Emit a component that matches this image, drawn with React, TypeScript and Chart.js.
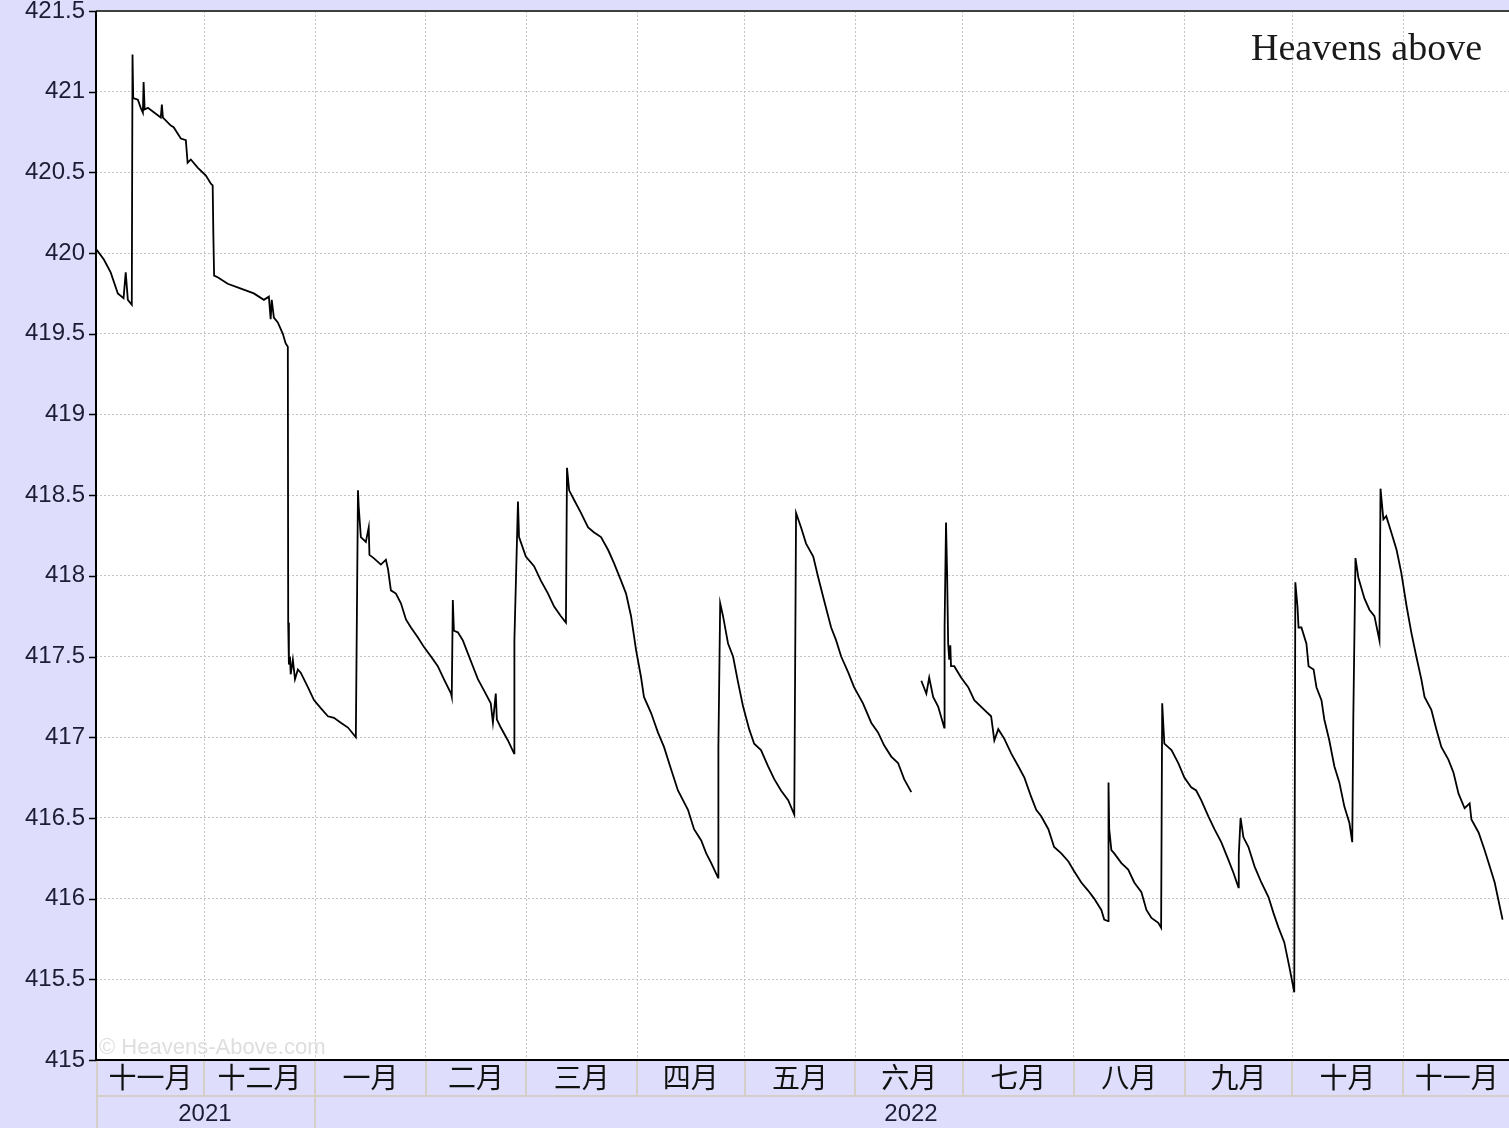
import React, { useEffect, useRef } from 'react';
import { Chart, registerables } from 'chart.js';

Chart.register(...registerables);

const W = 1509;
const H = 1128;

// Day offsets since 2021-11-01 of each month start (last entry = 2022-12-01)
const monthStarts = [0, 30, 61, 92, 120, 151, 181, 212, 242, 273, 304, 334, 365, 395];
const monthLabels = ['十一月', '十二月', '一月', '二月', '三月', '四月', '五月', '六月', '七月', '八月', '九月', '十月', '十一月'];
const yearLabels = ['2021', '2022'];
const yearSpans: [number, number][] = [[0, 61], [61, 395]];

const yTicks = [415, 415.5, 416, 416.5, 417, 417.5, 418, 418.5, 419, 419.5, 420, 420.5, 421, 421.5];
const yTickLabels = ['415', '415.5', '416', '416.5', '417', '417.5', '418', '418.5', '419', '419.5', '420', '420.5', '421', '421.5'];

// [day since 2021-11-01, altitude km]; null = data gap
const altitudeSamples: [number, number | null][] = [
  [0, 420.02], [2.0, 419.96], [3.9, 419.88], [5.9, 419.75], [7.5, 419.72], [8.1, 419.88], [8.7, 419.71], [9.8, 419.68],
  [10.0, 421.23], [10.2, 420.96], [11.5, 420.95], [12.3, 420.90], [12.9, 420.87], [13.1, 421.06], [13.4, 420.89], [14.3, 420.90],
  [17.9, 420.84], [18.2, 420.92], [18.5, 420.84], [20.7, 420.79], [21.5, 420.78], [23.5, 420.71], [24.9, 420.70], [25.4, 420.56],
  [26.3, 420.58], [28.2, 420.53], [30.5, 420.48], [31.9, 420.43], [32.4, 420.42],
  [32.6, 420.10], [32.8, 419.86], [33.8, 419.85], [36.6, 419.81], [40.3, 419.78], [43.9, 419.75], [46.7, 419.71], [48.1, 419.73],
  [48.6, 419.59], [48.9, 419.71], [49.5, 419.60], [50.6, 419.57], [52.0, 419.50], [52.8, 419.44], [53.4, 419.42],
  [53.5, 417.71], [53.7, 417.45], [54.0, 417.50], [54.2, 417.39], [54.8, 417.48], [55.4, 417.36], [56.2, 417.42], [57.0, 417.40],
  [59.0, 417.31], [60.7, 417.23], [62.6, 417.18], [64.6, 417.13], [66.3, 417.12], [68.2, 417.09], [70.2, 417.06], [72.4, 417.00],
  [72.7, 417.77], [73.0, 418.53], [73.2, 418.43], [73.8, 418.24], [75.2, 418.21], [76.0, 418.30], [76.2, 418.13], [77.4, 418.11],
  [79.4, 418.07], [80.8, 418.10], [81.4, 418.04], [82.2, 417.91], [83.6, 417.89], [85.0, 417.83], [86.4, 417.73], [87.8, 417.68],
  [89.7, 417.62], [91.4, 417.56], [93.4, 417.50], [95.3, 417.44], [97.0, 417.36], [99.0, 417.27], [99.2, 417.25],
  [99.5, 417.85], [99.8, 417.66], [100.9, 417.65], [102.3, 417.60], [103.7, 417.52], [105.1, 417.44], [106.5, 417.36], [108.2, 417.29],
  [110.1, 417.21], [110.7, 417.09], [111.5, 417.27], [111.8, 417.11], [112.9, 417.06], [114.9, 416.98], [116.6, 416.90],
  [116.7, 417.60], [117.7, 418.46], [118.0, 418.24], [119.9, 418.12], [122.2, 418.06], [124.1, 417.97], [126.1, 417.89], [127.8, 417.81],
  [129.7, 417.75], [131.1, 417.71],
  [131.4, 418.67], [132.0, 418.53], [133.4, 418.47], [135.3, 418.39], [137.3, 418.30], [138.9, 418.27], [140.9, 418.24], [142.9, 418.16],
  [144.5, 418.08], [146.5, 417.97], [147.9, 417.89], [149.3, 417.75], [150.7, 417.54], [152.1, 417.37], [152.9, 417.25], [154.9, 417.15],
  [156.8, 417.03], [158.5, 416.94], [160.5, 416.80], [162.4, 416.67], [163.8, 416.61], [165.2, 416.55], [166.9, 416.43], [168.9, 416.36],
  [170.3, 416.28], [171.7, 416.22], [173.6, 416.13],
  [173.7, 416.94], [174.2, 417.83], [175.0, 417.75], [176.4, 417.58], [177.8, 417.50], [179.2, 417.34], [180.6, 417.19], [182.3, 417.05],
  [183.7, 416.96], [185.6, 416.92], [187.6, 416.82], [189.3, 416.74], [191.2, 416.67], [193.2, 416.61], [194.9, 416.52],
  [195.4, 418.39], [196.8, 418.30], [198.2, 418.20], [200.2, 418.12], [201.6, 417.99], [203.2, 417.85], [205.2, 417.68], [206.6, 417.60],
  [208.0, 417.50], [210.0, 417.40], [211.6, 417.31], [214.1, 417.21], [216.4, 417.09], [218.3, 417.03], [220.0, 416.95], [222.0, 416.88],
  [223.9, 416.84], [225.6, 416.74], [227.6, 416.66],
  [229.0, null],
  [230.4, 417.35], [231.8, 417.27], [232.6, 417.37], [233.7, 417.25], [235.1, 417.19], [236.8, 417.06], [236.9, 417.68], [237.3, 418.33],
  [237.6, 418.02], [237.9, 417.58], [238.2, 417.48], [238.5, 417.57], [238.7, 417.44], [239.6, 417.44], [241.5, 417.37], [243.5, 417.31],
  [245.2, 417.23], [248.0, 417.17], [249.9, 417.13], [250.8, 416.98], [251.9, 417.05], [253.6, 416.99], [255.5, 416.90], [257.5, 416.82],
  [259.2, 416.75], [261.1, 416.63], [262.5, 416.55], [263.9, 416.51], [265.9, 416.43], [267.5, 416.32], [269.5, 416.28], [271.5, 416.23],
  [273.1, 416.17], [275.1, 416.10], [277.0, 416.05], [278.7, 416.00], [280.7, 415.93], [281.5, 415.87], [282.6, 415.86],
  [282.7, 416.72], [282.9, 416.43], [283.5, 416.30], [284.3, 416.28], [286.3, 416.22], [288.2, 416.18], [289.9, 416.10], [291.9, 416.04],
  [293.3, 415.93], [294.7, 415.88], [296.6, 415.85], [297.4, 415.82],
  [297.7, 417.21], [298.3, 416.96], [300.3, 416.92], [302.2, 416.84], [303.9, 416.75], [305.8, 416.69], [307.2, 416.67], [308.6, 416.61],
  [310.6, 416.51], [312.3, 416.43], [314.2, 416.35], [316.2, 416.24], [317.6, 416.16], [319.0, 416.07],
  [319.1, 416.27], [319.6, 416.50], [320.4, 416.38], [321.8, 416.32], [323.5, 416.20], [325.4, 416.10], [327.4, 416.01], [328.8, 415.91],
  [330.2, 415.82], [331.8, 415.73], [333.2, 415.58], [334.6, 415.42],
  [334.9, 417.96], [335.5, 417.81], [335.8, 417.68], [336.6, 417.68], [338.0, 417.58], [338.6, 417.44], [340.0, 417.42], [340.8, 417.31],
  [342.2, 417.23], [343.0, 417.11], [344.4, 416.98], [345.8, 416.82], [347.2, 416.72], [348.6, 416.57], [350.0, 416.47], [350.8, 416.35],
  [351.1, 417.12], [351.7, 418.11], [352.5, 417.99], [354.2, 417.86], [355.6, 417.79], [357.0, 417.75], [358.4, 417.60],
  [358.7, 418.54], [359.5, 418.35], [360.3, 418.37], [361.7, 418.27], [363.2, 418.16], [364.5, 418.02], [366.0, 417.81], [367.3, 417.65],
  [368.7, 417.50], [370.1, 417.36], [371.0, 417.25], [372.9, 417.17], [374.3, 417.05], [375.7, 416.94], [377.7, 416.86], [379.1, 416.78],
  [380.5, 416.65], [382.2, 416.56], [383.6, 416.59], [384.1, 416.49], [386.1, 416.41], [387.8, 416.30], [389.2, 416.20], [390.6, 416.10],
  [392.8, 415.87],
];

const LAVENDER = '#dedefc';
const CELL_BORDER = '#d4d0c8';
const TEXT_DARK = '#1c1c34';

const framePlugin = {
  id: 'frame',
  beforeDraw(chart: any) {
    const { ctx, chartArea: a } = chart;
    ctx.save();
    ctx.fillStyle = LAVENDER;
    ctx.fillRect(0, 0, chart.width, chart.height);
    ctx.fillStyle = '#ffffff';
    ctx.fillRect(a.left, a.top, a.right - a.left, a.bottom - a.top);
    ctx.restore();
  },
  beforeDatasetsDraw(chart: any) {
    const { ctx, chartArea: a } = chart;
    ctx.save();
    ctx.font = '22px "Liberation Sans", Arial, sans-serif';
    ctx.fillStyle = '#dedede';
    ctx.textAlign = 'left';
    ctx.textBaseline = 'alphabetic';
    ctx.fillText('© Heavens-Above.com', a.left + 3, a.bottom - 6);
    ctx.restore();
  },
  afterDraw(chart: any) {
    const { ctx, chartArea: a } = chart;
    const xs = chart.scales.x;
    const ys = chart.scales.y;
    ctx.save();

    // bottom table rows
    const rowTop = a.bottom;
    const rowMid = a.bottom + 36;
    const rowBot = chart.height;
    ctx.strokeStyle = CELL_BORDER;
    ctx.lineWidth = 2;
    ctx.beginPath();
    ctx.moveTo(a.left, rowMid);
    ctx.lineTo(a.right, rowMid);
    monthStarts.forEach((m) => {
      const px = Math.round(xs.getPixelForValue(m));
      ctx.moveTo(px, rowTop);
      ctx.lineTo(px, rowMid);
    });
    yearSpans.forEach(([s]) => {
      const px = Math.round(xs.getPixelForValue(s));
      ctx.moveTo(px, rowMid);
      ctx.lineTo(px, rowBot);
    });
    ctx.stroke();

    ctx.fillStyle = '#111111';
    ctx.font = '28px "Noto Sans CJK SC", sans-serif';
    ctx.textAlign = 'center';
    ctx.textBaseline = 'middle';
    monthLabels.forEach((lbl, i) => {
      const cx = (xs.getPixelForValue(monthStarts[i]) + xs.getPixelForValue(monthStarts[i + 1])) / 2;
      ctx.fillText(lbl, cx, rowTop + 17);
    });

    ctx.fillStyle = TEXT_DARK;
    ctx.font = '24px "Liberation Sans", Arial, sans-serif';
    yearLabels.forEach((lbl, i) => {
      const [s, e] = yearSpans[i];
      const cx = (xs.getPixelForValue(s) + Math.min(xs.getPixelForValue(e), chart.width)) / 2;
      ctx.fillText(lbl, cx - 1, rowMid + 18);
    });

    // axes lines
    ctx.strokeStyle = '#404040';
    ctx.lineWidth = 2;
    ctx.beginPath();
    ctx.moveTo(a.left, a.top);
    ctx.lineTo(a.right, a.top);
    ctx.stroke();

    ctx.strokeStyle = '#000000';
    ctx.beginPath();
    ctx.moveTo(a.left, a.top);
    ctx.lineTo(a.left, a.bottom);
    ctx.moveTo(a.left, a.bottom);
    ctx.lineTo(a.right, a.bottom);
    ctx.stroke();

    // y ticks and labels
    ctx.lineWidth = 1.5;
    ctx.beginPath();
    yTicks.forEach((v) => {
      const py = Math.round(ys.getPixelForValue(v)) + 0.5;
      ctx.moveTo(a.left - 7, py);
      ctx.lineTo(a.left, py);
    });
    ctx.stroke();

    ctx.fillStyle = TEXT_DARK;
    ctx.font = '24px "Liberation Sans", Arial, sans-serif';
    ctx.textAlign = 'right';
    ctx.textBaseline = 'middle';
    yTicks.forEach((v, i) => {
      ctx.fillText(yTickLabels[i], a.left - 11, ys.getPixelForValue(v));
    });

    // label top right
    ctx.fillStyle = '#1a1a1a';
    ctx.font = '38px "Liberation Serif", "DejaVu Serif", serif';
    ctx.textAlign = 'right';
    ctx.textBaseline = 'alphabetic';
    ctx.fillText('Heavens above', a.right - 27, a.top + 49);

    ctx.restore();
  },
};

export default function App() {
  const canvasRef = useRef<HTMLCanvasElement | null>(null);

  useEffect(() => {
    const canvas = canvasRef.current;
    if (!canvas) return;
    const points = altitudeSamples.map(([d, v]) => ({ x: d, y: v }));
    const chart = new Chart(canvas, {
      type: 'line',
      data: {
        datasets: [
          {
            data: points as any,
            borderColor: '#000000',
            borderWidth: 1.8,
            pointRadius: 0,
            tension: 0,
            spanGaps: false,
            fill: false,
          },
        ],
      },
      options: {
        animation: false,
        responsive: false,
        devicePixelRatio: 1,
        layout: { padding: { top: 11, left: 0, right: 0, bottom: 0 } },
        plugins: { legend: { display: false }, tooltip: { enabled: false }, title: { display: false } },
        scales: {
          x: {
            type: 'linear',
            min: -0.2,
            max: 394.6,
            afterBuildTicks: (scale: any) => {
              scale.ticks = monthStarts.slice(1, -1).map((v) => ({ value: v }));
            },
            afterFit: (scale: any) => {
              scale.height = 68;
            },
            ticks: { display: false },
            grid: { color: '#c4c4c4', lineWidth: 1, drawTicks: false },
            border: { display: false, dash: [2, 2] },
          },
          y: {
            type: 'linear',
            min: 415,
            max: 421.5,
            afterBuildTicks: (scale: any) => {
              scale.ticks = yTicks.slice(1, -1).map((v) => ({ value: v }));
            },
            afterFit: (scale: any) => {
              scale.width = 96;
            },
            ticks: { display: false },
            grid: { color: '#c4c4c4', lineWidth: 1, drawTicks: false },
            border: { display: false, dash: [2, 2] },
          },
        },
      },
      plugins: [framePlugin],
    });
    return () => chart.destroy();
  }, []);

  return (
    <div style={{ position: 'fixed', left: 0, top: 0, width: W, height: H }}>
      <canvas ref={canvasRef} width={W} height={H} style={{ width: W, height: H, display: 'block' }} />
    </div>
  );
}
